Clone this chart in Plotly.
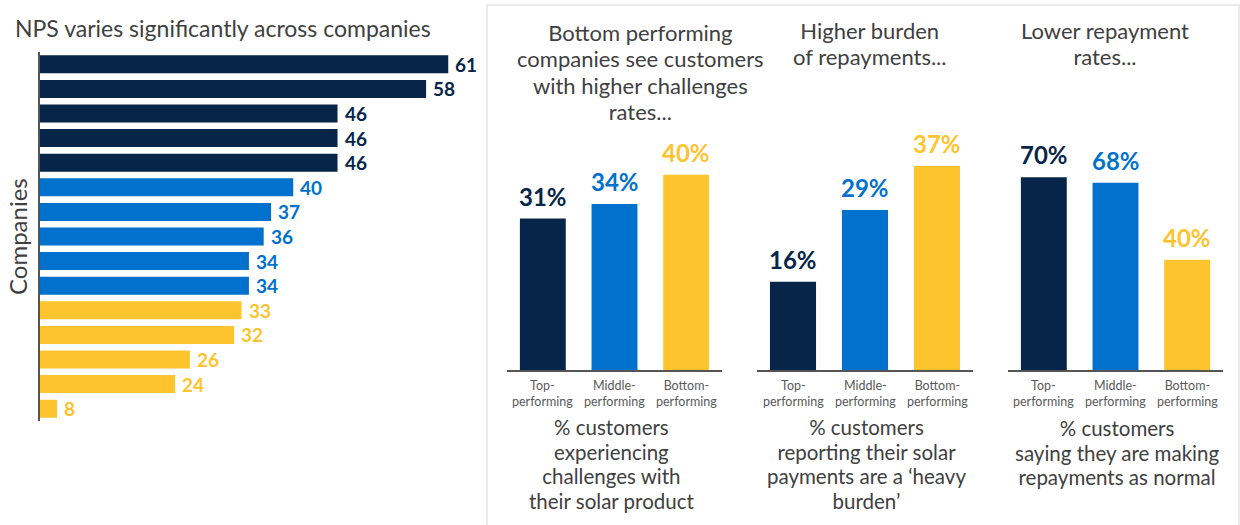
import plotly.graph_objects as go

# ---- data ----
nps_values = [61, 58, 46, 46, 46, 40, 37, 36, 34, 34, 33, 32, 26, 24, 8]
nps_groups = ["top"] * 5 + ["middle"] * 5 + ["bottom"] * 5
company_ids = list(range(1, len(nps_values) + 1))

segments = ["Top-performing", "Middle-performing", "Bottom-performing"]
challenges_pct = [31, 34, 40]
heavy_burden_pct = [16, 29, 37]
repaying_normal_pct = [70, 68, 40]

COLORS = {"top": "#062548", "middle": "#0171CE", "bottom": "#FEC42E"}
seg_colors = [COLORS["top"], COLORS["middle"], COLORS["bottom"]]

W, H = 1240, 525
FONT = "Lato"
TEXT_GREY = "#404040"
AXIS_GREY = "#555555"


def px(x):
    return x / W


def py(y):
    return 1 - y / H


fig = go.Figure()
annotations = []

# ---- left: NPS by company ----
nps_colors = [COLORS[g] for g in nps_groups]
fig.add_trace(go.Bar(
    x=nps_values, y=company_ids, orientation="h",
    marker=dict(color=nps_colors, line=dict(width=0)),
    width=0.73, cliponaxis=False,
    xaxis="x", yaxis="y", showlegend=False, hoverinfo="skip",
))
for cid, v, c in zip(company_ids, nps_values, nps_colors):
    annotations.append(dict(
        text=f"<b>{v}</b>", x=v, y=cid, xref="x", yref="y",
        xanchor="left", yanchor="middle", xshift=5, showarrow=False,
        font=dict(family=FONT, size=19, color=c),
    ))

# ---- right: three segment comparisons ----
panels = [challenges_pct, heavy_burden_pct, repaying_normal_pct]
for i, vals in enumerate(panels, start=2):
    fig.add_trace(go.Bar(
        x=segments, y=vals,
        marker=dict(color=seg_colors, line=dict(width=0)),
        width=0.64, cliponaxis=False,
        xaxis=f"x{i}", yaxis=f"y{i}", showlegend=False, hoverinfo="skip",
    ))
    for seg, v, c in zip(segments, vals, seg_colors):
        annotations.append(dict(
            text=f"<b>{v}%</b>", x=seg, y=v, xref=f"x{i}", yref=f"y{i}",
            xanchor="center", yanchor="bottom", yshift=6, showarrow=False,
            font=dict(family=FONT, size=24, color=c),
        ))
        # category label wrapped after the hyphen
        head, tail = seg.split("-", 1)
        annotations.append(dict(
            text=f"{head}-<br>{tail}", x=seg, y=py(393), xref=f"x{i}", yref="paper",
            xanchor="center", yanchor="middle", showarrow=False,
            font=dict(family=FONT, size=12.5, color="#595959"),
        ))

panel_y_domain = [py(370), py(140)]
layout = dict(
    width=W, height=H,
    margin=dict(l=0, r=0, t=0, b=0),
    paper_bgcolor="white", plot_bgcolor="white",
    font=dict(family=FONT, color=TEXT_GREY),
    xaxis=dict(domain=[px(40), px(480)], range=[5.7, 65.3], visible=False, fixedrange=True),
    yaxis=dict(domain=[py(421), py(52)], range=[len(nps_values) + 0.5, 0.5],
               showline=True, linecolor=AXIS_GREY, linewidth=1.5,
               showticklabels=False, showgrid=False, zeroline=False, ticks=""),
)

x_domains = [(507, 722), (757, 973), (1008, 1223)]
y_ranges = [47.1, 41.7, 83.5]
for i, ((a, b), ymax) in enumerate(zip(x_domains, y_ranges), start=2):
    layout[f"xaxis{i}"] = dict(
        domain=[px(a), px(b)], anchor=f"y{i}",
        showline=True, linecolor=AXIS_GREY, linewidth=1.5,
        showgrid=False, zeroline=False, ticks="", showticklabels=False,
    )
    layout[f"yaxis{i}"] = dict(
        domain=panel_y_domain, anchor=f"x{i}", range=[0, ymax],
        visible=False, showgrid=False, zeroline=False,
    )
fig.update_layout(**layout)


# ---- text blocks ----
def text_block(lines, cx, cy, size=22, line_gap=None, anchor="center"):
    """Multi-line block; line spacing set by the base font (1.3em per line),
    glyphs drawn at `size`."""
    base = (line_gap / 1.3) if line_gap else size
    body = "<br>".join(f'<span style="font-size:{size}px">{t}</span>' for t in lines)
    annotations.append(dict(
        text=body, x=px(cx), y=py(cy), xref="paper", yref="paper",
        xanchor=anchor, yanchor="middle", align=anchor,
        showarrow=False, font=dict(family=FONT, size=base, color=TEXT_GREY),
    ))


text_block(["NPS varies significantly across companies"], 13, 28, size=23, anchor="left")
annotations.append(dict(
    text="Companies", x=px(18), y=py(237), xref="paper", yref="paper",
    textangle=-90, showarrow=False, xanchor="center", yanchor="middle",
    font=dict(family=FONT, size=24, color=TEXT_GREY),
))

text_block(["Bottom performing", "companies see customers", "with higher challenges", "rates..."],
           640, 72, line_gap=26.4)
text_block(["Higher burden", "of repayments..."], 870, 43, line_gap=26.4)
text_block(["Lower repayment", "rates..."], 1105, 43, line_gap=26.4)

text_block(["% customers", "experiencing", "challenges with", "their solar product"],
           611, 464, size=20.5, line_gap=24.6)
text_block(["% customers", "reporting their solar", "payments are a \u2018heavy", "burden\u2019"],
           866, 464, size=20.5, line_gap=24.6)
text_block(["% customers", "saying they are making", "repayments as normal"],
           1117, 452.5, size=20.5, line_gap=24.6)

fig.update_layout(
    annotations=annotations,
    shapes=[dict(type="rect", xref="paper", yref="paper",
                 x0=px(487), x1=px(1239), y0=py(535), y1=py(5),
                 line=dict(color="#EBEBEB", width=2), fillcolor="rgba(0,0,0,0)", layer="below")],
)

fig.write_html("out.html", config={"displayModeBar": False})
